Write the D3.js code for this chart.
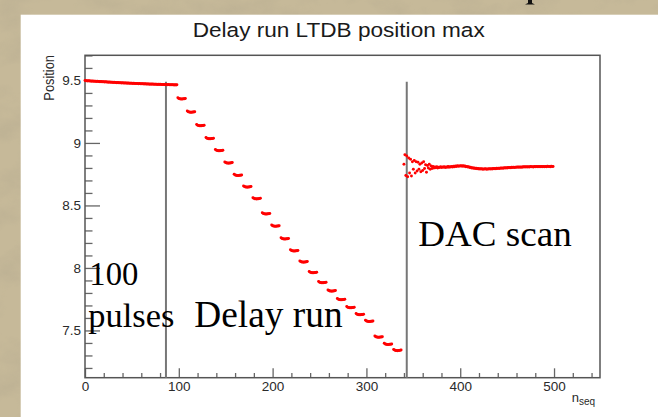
<!DOCTYPE html>
<html>
<head>
<meta charset="utf-8">
<script src="https://cdn.jsdelivr.net/npm/d3@7"></script>
<style>
  html, body { margin: 0; padding: 0; background: #c0b392; }
  svg { display: block; }
</style>
</head>
<body>
<svg id="chart" width="658" height="417"></svg>
<script>
// ---------------- data ----------------
const title = "Delay run LTDB position max";
const yLabel = "Position";
const xLabelMain = "n";
const xLabelSub = "seq";

const yMajorTicks = [7.5, 8, 8.5, 9, 9.5];
const yTickLabels = ["7.5", "8", "8.5", "9", "9.5"];
const xMajorTicks = [0, 100, 200, 300, 400, 500];
const xTickLabels = ["0", "100", "200", "300", "400", "500"];

// phase 1: 100 pulses, x = 0..98
const pulsesStartX = 0;
const pulsesValues = [
  9.499, 9.497, 9.498, 9.496, 9.497, 9.495, 9.496, 9.494, 9.495, 9.493,
  9.494, 9.493, 9.492, 9.493, 9.491, 9.492, 9.490, 9.491, 9.490, 9.489,
  9.490, 9.488, 9.489, 9.487, 9.488, 9.486, 9.487, 9.485, 9.486, 9.485,
  9.484, 9.485, 9.483, 9.484, 9.482, 9.483, 9.482, 9.481, 9.482, 9.480,
  9.481, 9.480, 9.479, 9.480, 9.479, 9.478, 9.479, 9.477, 9.478, 9.477,
  9.478, 9.476, 9.477, 9.476, 9.475, 9.476, 9.475, 9.474, 9.475, 9.474,
  9.473, 9.474, 9.473, 9.472, 9.473, 9.472, 9.471, 9.472, 9.471, 9.470,
  9.471, 9.470, 9.471, 9.469, 9.470, 9.469, 9.470, 9.468, 9.469, 9.468,
  9.469, 9.468, 9.467, 9.468, 9.467, 9.468, 9.466, 9.467, 9.466, 9.467,
  9.466, 9.465, 9.466, 9.465, 9.466, 9.464, 9.465, 9.464, 9.465
];

// phase 2: delay run, 24 steps, each step 9 points
const delayStepStartX = [99, 109, 119, 129, 139, 149, 159, 169, 179, 189, 199, 209,
                         219, 229, 239, 249, 259, 269, 279, 289, 299, 309, 319, 329];
const delayStepLevels = [9.353, 9.247, 9.139, 9.035, 8.939, 8.840, 8.741, 8.648,
                         8.554, 8.433, 8.335, 8.233, 8.137, 8.048, 7.963, 7.883,
                         7.816, 7.747, 7.683, 7.627, 7.573, 7.447, 7.389, 7.340];
const delayStepShape = [0.008, 0.003, 0.000, -0.001, -0.002, -0.001, 0.000, 0.001, 0.003];

// phase 3: DAC scan, x = 340..499
const dacStartX = 340;
const dacValues = [
  8.830, 8.905, 8.740, 8.895, 8.730, 8.880, 8.760, 8.870, 8.735, 8.850,
  8.790, 8.860, 8.760, 8.850, 8.775, 8.845, 8.790, 8.830, 8.770, 8.840,
  8.780, 8.850, 8.795, 8.825, 8.765, 8.820, 8.800, 8.830, 8.790, 8.815,
  8.795, 8.812, 8.800, 8.808, 8.802, 8.810, 8.800, 8.806, 8.803, 8.809,
  8.804, 8.807, 8.805, 8.810, 8.803, 8.808, 8.806, 8.811, 8.805, 8.809,
  8.807, 8.812, 8.808, 8.814, 8.810, 8.815, 8.812, 8.817, 8.813, 8.816,
  8.815, 8.818, 8.814, 8.817, 8.813, 8.815, 8.810, 8.812, 8.807, 8.809,
  8.804, 8.806, 8.800, 8.802, 8.797, 8.799, 8.795, 8.797, 8.793, 8.795,
  8.792, 8.794, 8.791, 8.793, 8.790, 8.792, 8.791, 8.793, 8.790, 8.792,
  8.791, 8.793, 8.792, 8.794, 8.792, 8.795, 8.793, 8.796, 8.794, 8.797,
  8.795, 8.798, 8.796, 8.799, 8.797, 8.800, 8.798, 8.801, 8.799, 8.802,
  8.800, 8.803, 8.801, 8.804, 8.802, 8.805, 8.803, 8.806, 8.804, 8.806,
  8.805, 8.807, 8.805, 8.808, 8.806, 8.808, 8.806, 8.809, 8.807, 8.809,
  8.807, 8.810, 8.808, 8.810, 8.808, 8.811, 8.809, 8.810, 8.808, 8.811,
  8.809, 8.811, 8.809, 8.812, 8.810, 8.811, 8.809, 8.812, 8.810, 8.812,
  8.810, 8.812, 8.810, 8.813, 8.811, 8.812, 8.810, 8.813, 8.811, 8.812
];

// separator lines (x position, top value)
const separatorX = [86.3, 343];
const separatorTop = 9.49;

// annotations
const annotations = [
  { text: "100",       x: 89.3,  v: 7.865 },
  { text: "pulses",    x: 88.3,  v: 7.528 },
  { text: "Delay run", x: 194.3, v: 7.53 },
  { text: "DAC scan",  x: 418.3, v: 8.178 }
];

// ---------------- build point table ----------------
const points = [];
pulsesValues.forEach((v, i) => points.push({ x: pulsesStartX + i, y: v }));
delayStepStartX.forEach((sx, k) => {
  delayStepShape.forEach((d, j) => points.push({ x: sx + j, y: delayStepLevels[k] + d }));
});
dacValues.forEach((v, i) => points.push({ x: dacStartX + i, y: v }));

// ---------------- drawing ----------------
const svg = d3.select("#chart");
const W = 658, H = 417;
const L = 85, R = 600, T = 55.3, B = 377.7;

// textured background (parchment)
const defs = svg.append("defs");
const f = defs.append("filter").attr("id", "tex").attr("x", 0).attr("y", 0).attr("width", 1).attr("height", 1);
f.append("feTurbulence").attr("type", "fractalNoise").attr("baseFrequency", "0.025 0.035")
  .attr("numOctaves", 5).attr("seed", 11).attr("result", "n");
f.append("feColorMatrix").attr("in", "n").attr("type", "matrix")
  .attr("values", "0 0 0 0 0.42  0 0 0 0 0.37  0 0 0 0 0.26  1.3 0 0 0 -0.55");
svg.append("rect").attr("width", W).attr("height", H).attr("fill", "#c6b999");
svg.append("rect").attr("width", W).attr("height", H).attr("filter", "url(#tex)").attr("opacity", 0.55);

// white pad
svg.append("rect").attr("x", 20.7).attr("y", 14.7).attr("width", W - 20.7).attr("height", H - 14.7)
  .attr("fill", "#ffffff");

// stray glyph from slide above
svg.append("path").attr("d", "M528,0 L532,0 L532,3 L535,4.5 L525,4.5 L528,3 Z").attr("fill", "#111");

const x = d3.scaleLinear().domain([0, 549]).range([L, R]);
const y = d3.scaleLinear().domain([7.122, 9.701]).range([B, T]);

// title
svg.append("text").attr("x", 192.7).attr("y", 36.7)
  .attr("font-family", "Liberation Sans, Arial, sans-serif").attr("font-size", 20.5)
  .attr("fill", "#1a1a1a").attr("textLength", 292).attr("lengthAdjust", "spacingAndGlyphs")
  .text(title);

// axes
const tickColor = "#666";
const fontAx = "Liberation Sans, Arial, sans-serif";

const yMinor = d3.range(7.2, 9.75, 0.1).map(v => +v.toFixed(1)).filter(v => !yMajorTicks.includes(v));
const xMinor = d3.range(0, 549, 20).filter(v => !xMajorTicks.includes(v));

const gyMin = svg.append("g").attr("transform", `translate(${L},0)`)
  .call(d3.axisLeft(y).tickValues(yMinor).tickSize(-7.5).tickFormat(""));
const gy = svg.append("g").attr("transform", `translate(${L},0)`)
  .call(d3.axisLeft(y).tickValues(yMajorTicks).tickSize(-15).tickPadding(4)
    .tickFormat((d, i) => yTickLabels[i]));
const gxMin = svg.append("g").attr("transform", `translate(0,${B})`)
  .call(d3.axisBottom(x).tickValues(xMinor).tickSize(-4.7).tickFormat(""));
const gx = svg.append("g").attr("transform", `translate(0,${B})`)
  .call(d3.axisBottom(x).tickValues(xMajorTicks).tickSize(-9.4).tickPadding(4)
    .tickFormat((d, i) => xTickLabels[i]));

[gyMin, gy, gxMin, gx].forEach(g => {
  g.select(".domain").remove();
  g.selectAll(".tick line").attr("stroke", tickColor).attr("stroke-width", 1.3);
  g.selectAll(".tick text").attr("font-family", fontAx).attr("font-size", 13.5).attr("fill", "#2a2a2a");
});

// frame
svg.append("rect").attr("x", L).attr("y", T).attr("width", R - L).attr("height", B - T)
  .attr("fill", "none").attr("stroke", "#555").attr("stroke-width", 1.5);

// axis titles
svg.append("text").attr("transform", `translate(54,55) rotate(-90)`)
  .attr("text-anchor", "end").attr("font-family", fontAx).attr("font-size", 14)
  .attr("fill", "#2a2a2a").attr("textLength", 45.7).attr("lengthAdjust", "spacingAndGlyphs")
  .text(yLabel);

const xt = svg.append("text").attr("x", 595).attr("y", 401.7).attr("text-anchor", "end")
  .attr("font-family", fontAx).attr("fill", "#2a2a2a");
xt.append("tspan").attr("font-size", 13).text(xLabelMain);
xt.append("tspan").attr("font-size", 10).attr("dy", 3.5).text(xLabelSub);

// separator lines
svg.append("g").selectAll("line").data(separatorX).join("line")
  .attr("x1", d => x(d)).attr("x2", d => x(d))
  .attr("y1", y(separatorTop)).attr("y2", B)
  .attr("stroke", "#777").attr("stroke-width", 2);

// points
svg.append("g").selectAll("circle").data(points).join("circle")
  .attr("cx", d => x(d.x)).attr("cy", d => y(d.y)).attr("r", 1.45)
  .attr("fill", "#ff0000");

// annotations
const annSizes = { "100": [34, 49], "pulses": [34, 86], "Delay run": [37, 148.4], "DAC scan": [35, 153.4] };
svg.append("g").selectAll("text").data(annotations).join("text")
  .attr("x", d => d.x).attr("y", d => y(d.v))
  .attr("font-family", "Liberation Serif, Times New Roman, serif")
  .attr("font-size", d => annSizes[d.text][0])
  .attr("textLength", d => annSizes[d.text][1]).attr("lengthAdjust", "spacingAndGlyphs")
  .attr("fill", "#000")
  .text(d => d.text);
</script>
</body>
</html>
